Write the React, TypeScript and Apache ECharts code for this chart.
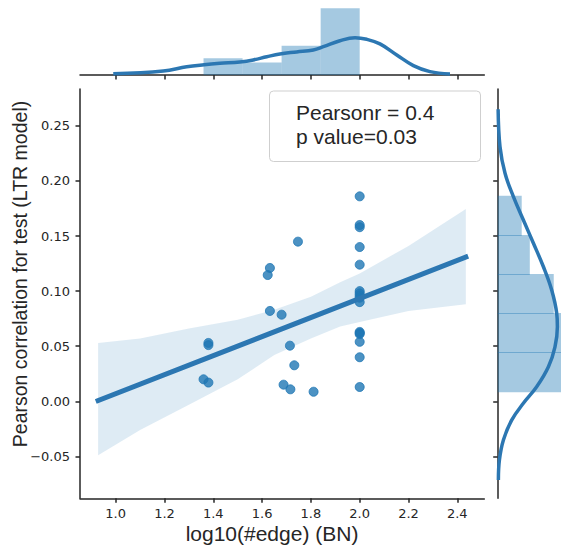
import React, { useEffect, useRef } from "react";
import * as echarts from "echarts";

// ---- data ----
const xTicks = [1.0, 1.2, 1.4, 1.6, 1.8, 2.0, 2.2, 2.4];
const yTicks = [-0.05, 0.0, 0.05, 0.1, 0.15, 0.2, 0.25];

const logEdge = [
  1.36, 1.38, 1.38, 1.38,
  1.623, 1.632, 1.632,
  1.68, 1.688, 1.714, 1.716, 1.732, 1.747, 1.811,
  2.0, 2.0, 2.0, 2.0, 2.0, 2.0, 2.0, 2.0, 2.0, 2.0, 2.0, 2.0, 2.0, 2.0, 2.0, 2.0,
];
const corr = [
  0.02, 0.053, 0.051, 0.017,
  0.1146, 0.121, 0.082,
  0.0786, 0.0151, 0.0505, 0.0109, 0.0327, 0.1449, 0.0087,
  0.186, 0.16, 0.158, 0.14, 0.124, 0.1, 0.098, 0.096, 0.094, 0.09, 0.063, 0.062, 0.061, 0.054, 0.04, 0.013,
];

// regression line end points
const regX = [0.928, 2.435];
const regY = [0.0007, 0.1309];

// confidence band
const bandX = [0.928, 1.1, 1.3, 1.5, 1.65, 1.8, 1.92, 2.0, 2.2, 2.435];
const bandUpper = [0.053, 0.057, 0.066, 0.074, 0.083, 0.095, 0.108, 0.116, 0.141, 0.1745];
const bandLower = [-0.049, -0.026, -0.003, 0.02, 0.042, 0.057, 0.068, 0.072, 0.082, 0.088];

// marginal histograms (counts)
const xBinEdges = [1.36, 1.52, 1.68, 1.84, 2.0];
const xBinCounts = [4, 3, 7, 16];
const yBinEdges = [0.0087, 0.0442, 0.0796, 0.1151, 0.1505, 0.186];
const yBinCounts = [8, 8, 7, 4, 3];

// marginal KDE curves
const kdeXPos = [0.99, 1.195, 1.291, 1.362, 1.427, 1.509, 1.564, 1.619, 1.673, 1.742, 1.81, 1.851, 1.919, 1.981, 2.029, 2.083, 2.152, 2.22, 2.288, 2.37];
const kdeXDens = [0.06, 0.2, 0.41, 0.51, 0.58, 0.65, 0.75, 0.91, 1.05, 1.15, 1.25, 1.41, 1.71, 1.86, 1.78, 1.55, 1.0, 0.47, 0.17, 0.05];
const kdeYPos = [0.265, 0.231, 0.2069, 0.1857, 0.1645, 0.1434, 0.1221, 0.101, 0.0799, 0.0677, 0.0495, 0.0314, 0.0132, -0.0018, -0.017, -0.0351, -0.0533, -0.0714];
const kdeYDens = [0.05, 0.27, 0.86, 1.84, 3.01, 4.19, 5.36, 6.33, 6.92, 7.0, 6.72, 5.95, 4.57, 3.01, 1.64, 0.67, 0.2, 0.08];

const statLines = ["Pearsonr = 0.4", "p value=0.03"];
const xTitle = "log10(#edge) (BN)";
const yTitle = "Pearson correlation for test (LTR model)";

const LINE = "rgb(44,119,178)";
const HIST = "rgba(31,119,180,0.4)";
const DARK = "#262626";

export default function App() {
  const ref = useRef<HTMLDivElement>(null);

  useEffect(() => {
    if (!ref.current) return;
    const chart = echarts.init(ref.current, undefined, { renderer: "svg" });
    const N = logEdge.length;

    const xMin = 0.8537, xMax = 2.5107;
    const yMin = -0.088, yMax = 0.2834;

    const axisLineStyle = { color: DARK, width: 1.5 };
    const tickLabelFont = { fontFamily: "DejaVu Sans", fontSize: 13, color: DARK };
    const fmtY = (v: number) => (v < 0 ? "\u2212" + Math.abs(v).toFixed(2) : v.toFixed(2));

    const xHistData = xBinCounts.map((c, i) => [
      xBinEdges[i], xBinEdges[i + 1], c / (N * (xBinEdges[i + 1] - xBinEdges[i])),
    ]);
    const yHistData = yBinCounts.map((c, i) => [
      yBinEdges[i], yBinEdges[i + 1], c / (N * (yBinEdges[i + 1] - yBinEdges[i])),
    ]);

    const option: any = {
      animation: false,
      grid: [
        { left: 80, top: 89, width: 404.3, height: 409.3 },
        { left: 80, top: 0, width: 404.3, height: 75 },
        { left: 497.7, top: 89, width: 63.3, height: 409.3 },
      ],
      xAxis: [
        {
          gridIndex: 0, type: "value", min: xMin, max: xMax,
          axisLine: { onZero: false, lineStyle: axisLineStyle },
          axisTick: { inside: false, length: 4.5, lineStyle: axisLineStyle, customValues: xTicks },
          axisLabel: { ...tickLabelFont, margin: 9, customValues: xTicks, formatter: (v: number) => v.toFixed(1) },
          splitLine: { show: false },
        },
        {
          gridIndex: 1, type: "value", min: xMin, max: xMax,
          axisLine: { onZero: false, lineStyle: axisLineStyle },
          axisTick: { inside: false, length: 4.5, lineStyle: axisLineStyle, customValues: xTicks },
          axisLabel: { show: false },
          splitLine: { show: false },
        },
        { gridIndex: 2, type: "value", min: 0, max: 7.424, show: false, splitLine: { show: false } },
      ],
      yAxis: [
        {
          gridIndex: 0, type: "value", min: yMin, max: yMax,
          axisLine: { show: true, onZero: false, lineStyle: axisLineStyle },
          axisTick: { show: true, inside: false, length: 4.5, lineStyle: axisLineStyle, customValues: yTicks },
          axisLabel: { ...tickLabelFont, margin: 10, customValues: yTicks, formatter: fmtY },
          splitLine: { show: false },
        },
        { gridIndex: 1, type: "value", min: 0, max: 3.739, show: false, splitLine: { show: false } },
        {
          gridIndex: 2, type: "value", min: yMin, max: yMax,
          axisLine: { show: true, onZero: false, lineStyle: axisLineStyle },
          axisTick: { show: true, inside: false, length: 4.5, lineStyle: axisLineStyle, customValues: yTicks },
          axisLabel: { show: false },
          splitLine: { show: false },
        },
      ],
      series: [
        {
          type: "scatter", xAxisIndex: 0, yAxisIndex: 0, z: 2,
          data: logEdge.map((x, i) => [x, corr[i]]),
          symbolSize: 9,
          itemStyle: { color: "rgba(31,119,180,0.8)", borderColor: "rgba(31,119,180,0.8)", borderWidth: 1, opacity: 1 },
        },
        {
          type: "custom", xAxisIndex: 0, yAxisIndex: 0, z: 3,
          data: [[bandX[0], bandUpper[0]]],
          renderItem: (_p: any, api: any) => {
            const pts: number[][] = [];
            for (let i = 0; i < bandX.length; i++) pts.push(api.coord([bandX[i], bandUpper[i]]));
            for (let i = bandX.length - 1; i >= 0; i--) pts.push(api.coord([bandX[i], bandLower[i]]));
            return { type: "polygon", shape: { points: pts }, style: { fill: "rgba(31,119,180,0.15)" } };
          },
          silent: true,
        },
        {
          type: "line", xAxisIndex: 0, yAxisIndex: 0, z: 4,
          data: regX.map((x, i) => [x, regY[i]]),
          showSymbol: false, symbol: "none",
          lineStyle: { color: LINE, width: 5, cap: "square" },
        },
        {
          type: "custom", xAxisIndex: 1, yAxisIndex: 1, z: 2,
          data: xHistData,
          renderItem: (_p: any, api: any) => {
            const a = api.coord([api.value(0), api.value(2)]);
            const b = api.coord([api.value(1), 0]);
            return { type: "rect", shape: { x: a[0], y: a[1], width: b[0] - a[0], height: b[1] - a[1] }, style: { fill: HIST } };
          },
        },
        {
          type: "line", xAxisIndex: 1, yAxisIndex: 1, z: 3,
          data: kdeXPos.map((x, i) => [x, kdeXDens[i]]),
          smooth: 0.4, showSymbol: false, symbol: "none",
          lineStyle: { color: LINE, width: 3.5 },
        },
        {
          type: "custom", xAxisIndex: 2, yAxisIndex: 2, z: 2,
          data: yHistData,
          renderItem: (p: any, api: any) => {
            const top = api.coord([api.value(2), api.value(1)]);
            const bot = api.coord([0, api.value(0)]);
            const cs = p.coordSys;
            const right = Math.min(top[0], cs.x + cs.width);
            return {
              type: "rect",
              shape: { x: bot[0], y: top[1] - 0.5, width: right - bot[0], height: bot[1] - top[1] + 1 },
              style: { fill: HIST },
            };
          },
        },
        {
          type: "line", xAxisIndex: 2, yAxisIndex: 2, z: 3,
          data: kdeYPos.map((y, i) => [kdeYDens[i], y]),
          smooth: 0.4, showSymbol: false, symbol: "none",
          lineStyle: { color: LINE, width: 3.5 },
        },
      ],
      graphic: [
        {
          type: "text", x: 272, y: 533, z: 10,
          style: { text: xTitle, fontFamily: "Liberation Sans", fontSize: 21, fill: DARK, align: "center", verticalAlign: "middle" },
        },
        {
          type: "text", x: 20, y: 274, rotation: Math.PI / 2, z: 10,
          style: { text: yTitle, fontFamily: "Liberation Sans", fontSize: 19.5, fill: DARK, align: "center", verticalAlign: "middle" },
        },
        {
          type: "rect", z: 20,
          shape: { x: 269.5, y: 91, width: 211, height: 70.5, r: 4 },
          style: { fill: "rgba(255,255,255,0.85)", stroke: "#cfcfcf", lineWidth: 1 },
        },
        {
          type: "text", x: 296, y: 112, z: 21,
          style: { text: statLines[0], fontFamily: "Liberation Sans", fontSize: 21, fill: DARK, align: "left", verticalAlign: "middle" },
        },
        {
          type: "text", x: 296, y: 136, z: 21,
          style: { text: statLines[1], fontFamily: "Liberation Sans", fontSize: 21, fill: DARK, align: "left", verticalAlign: "middle" },
        },
      ],
    };

    chart.setOption(option);
    return () => chart.dispose();
  }, []);

  return (
    <div
      ref={ref}
      style={{ position: "fixed", left: 0, top: 0, width: 561, height: 555, background: "#fff" }}
    />
  );
}
